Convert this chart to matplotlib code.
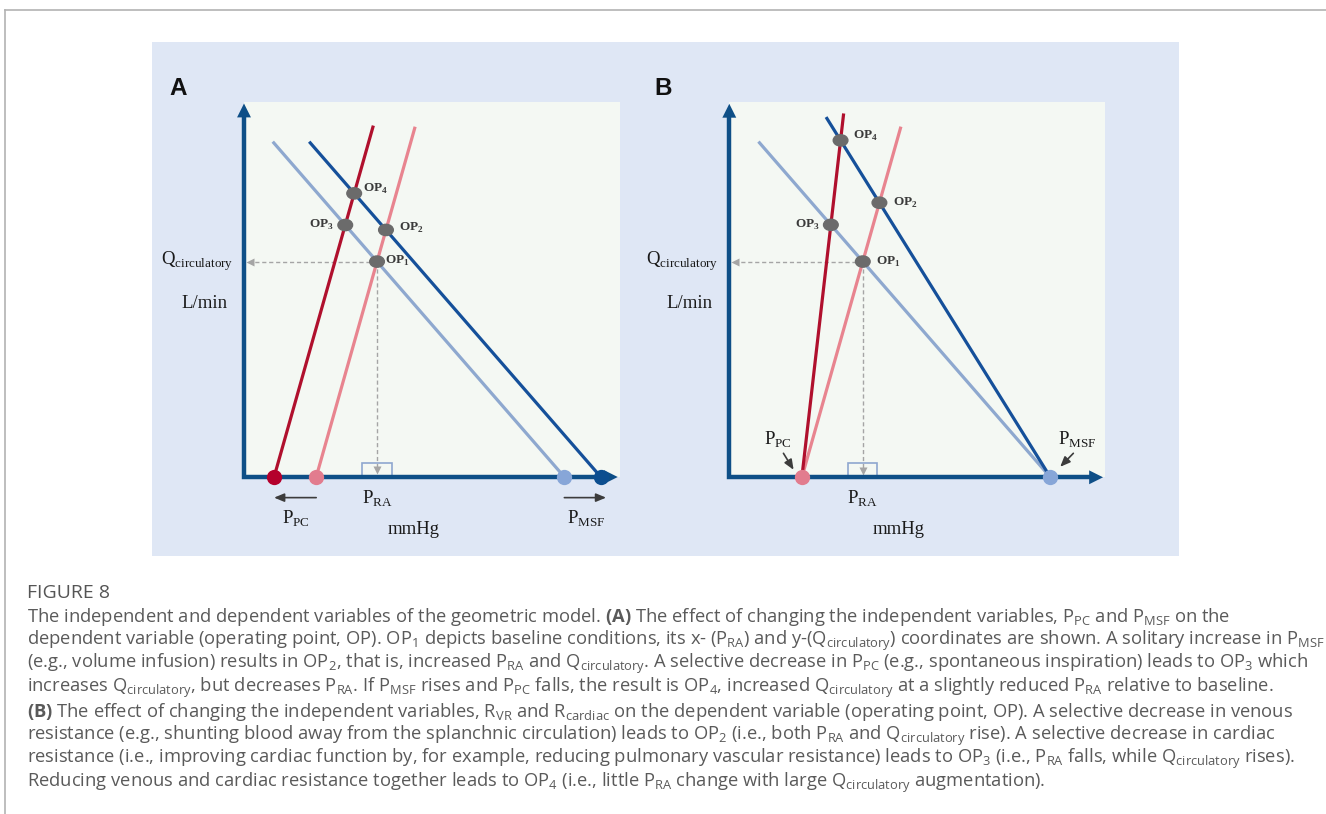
import matplotlib.pyplot as plt
from matplotlib.patches import Rectangle, Ellipse
from matplotlib.lines import Line2D

CAPFONT = 'Open Sans'
plt.rcParams['mathtext.fontset'] = 'custom'
plt.rcParams['mathtext.rm'] = CAPFONT
plt.rcParams['mathtext.bf'] = CAPFONT + ':bold'
plt.rcParams['mathtext.it'] = CAPFONT + ':italic'

W, H = 1326, 814

# ---- data (x = mmHg, y = L/min, arbitrary 0-100 units) ----
# cardiac lines: x-intercept P_PC, slope, upper end; [baseline, changed]
a_pc = [19.2, 8.0]
a_pc_slope = [3.55, 3.55]
a_pc_top = [93.0, 93.3]
# venous lines: x-intercept P_MSF, slope, upper end; [baseline, changed]
a_msf = [85.2, 94.9]
a_msf_slope = [-1.153, -1.153]
a_msf_top = [89.1, 89.1]

b_pc = [19.3, 19.3]
b_pc_slope = [3.55, 8.73]
b_pc_top = [93.1, 96.6]
b_msf = [85.4, 85.4]
b_msf_slope = [-1.153, -1.61]
b_msf_top = [89.2, 95.7]

op_names = ['OP$_\\mathregular{1}$', 'OP$_\\mathregular{2}$', 'OP$_\\mathregular{3}$', 'OP$_\\mathregular{4}$']
op_pairs = [(0, 0), (0, 1), (1, 0), (1, 1)]  # (cardiac idx, venous idx)

AXIS = '#0e4f87'
card_col = ['#e8848f', '#b0102d']
ven_col = ['#8ea8cf', '#15509a']
card_dot = ['#e27c8e', '#b4002c']
ven_dot = ['#87a6d8', '#0c4e8f']
SERIF = 'Liberation Serif'


def intersect(p1, s1, p2, s2):
    x = (s1 * p1 - s2 * p2) / (s1 - s2)
    return x, s1 * (x - p1)


def panel(rect, pc, pcs, pct, msf, msfs, msft, op_off, label, variant):
    ax = fig.add_axes(rect)
    ax.set_facecolor('#f4f8f3')
    for s in ax.spines.values():
        s.set_visible(False)
    ax.set_xticks([])
    ax.set_yticks([])
    ax.set_xlim(0, 100)
    ax.set_ylim(0, 100)

    # axes
    ax.plot([0, 0, 97], [97, 0, 0], color=AXIS, lw=3.2, solid_joinstyle='miter',
            solid_capstyle='projecting', clip_on=False, zorder=5)
    hs = '-|>,head_length=1.0,head_width=0.5'
    ax.annotate('', xy=(0, 99.6), xytext=(0, 95), annotation_clip=False,
                arrowprops=dict(arrowstyle=hs, color=AXIS, lw=0, shrinkA=0, shrinkB=0), zorder=5)
    ax.annotate('', xy=(99.4, 0), xytext=(95, 0), annotation_clip=False,
                arrowprops=dict(arrowstyle=hs, color=AXIS, lw=0, shrinkA=0, shrinkB=0), zorder=5)

    # venous return lines
    for i in range(2):
        x0 = msf[i] + msft[i] / msfs[i]
        ax.plot([x0, msf[i]], [msft[i], 0], color=ven_col[i], lw=2.3, zorder=3)
    # cardiac function lines
    for i in range(2):
        x1 = pc[i] + pct[i] / pcs[i]
        ax.plot([pc[i], x1], [0, pct[i]], color=card_col[i], lw=2.3, zorder=3)

    # intercept dots
    for i in range(2):
        if i == 0 or pc[i] != pc[0]:
            ax.plot(pc[i], 0, 'o', ms=11, color=card_dot[i], mec='none', clip_on=False, zorder=6)
        if i == 0 or msf[i] != msf[0]:
            ax.plot(msf[i], 0, 'o', ms=11, color=ven_dot[i], mec='none', clip_on=False, zorder=6)

    # operating points
    pts = [intersect(pc[c], pcs[c], msf[v], msfs[v]) for c, v in op_pairs]
    x1, y1 = pts[0]
    ax.plot([x1, 1.6], [y1, y1], color='#a5a5a5', lw=1, ls=(0, (3, 2)), zorder=2)
    ax.plot(1.6, y1, '<', ms=6, color='#a5a5a5', mec='none', zorder=2)
    ax.plot([x1, x1], [y1, 1.8], color='#a5a5a5', lw=1, ls=(0, (3, 2)), zorder=2)
    ax.plot(x1, 1.8, 'v', ms=6, color='#a5a5a5', mec='none', zorder=2)
    ax.add_patch(Rectangle((x1 - 3.9, 0), 7.8, 3.8, fill=False, ec='#8fa7cf', lw=1.2, zorder=2))
    for (x, y), name, (dx, dy) in zip(pts, op_names, op_off):
        ax.add_patch(Ellipse((x, y), 3.9, 3.0, color='#6b6b6b', zorder=7))
        ax.annotate(name, (x, y), xytext=(dx, dy), textcoords='offset pixels',
                    ha='left' if dx > 0 else 'right', va='center', fontsize=9.5,
                    fontweight='bold', family=SERIF, color='#3a3a3a')

    # axis labels
    ax.text(-12.4, y1, 'Q$_\\mathregular{circulatory}$', ha='center', va='center',
            fontsize=13.5, family=SERIF, color='#1a1a1a')
    ax.text(-10.5, 46.3, 'L/min', ha='center', va='center', fontsize=13.5, family=SERIF, color='#1a1a1a')
    ax.text(45, -13.9, 'mmHg', ha='center', va='center', fontsize=13.5, family=SERIF, color='#1a1a1a')
    ax.text(x1, -5.6, 'P$_\\mathregular{RA}$', ha='center', va='center', fontsize=13.5, family=SERIF, color='#1a1a1a')
    ax.text(-17.5, 103.6, label, ha='center', va='center', fontsize=17.5, fontweight='bold',
            family='Liberation Sans', color='#111111')

    small = dict(arrowstyle='-|>,head_length=0.6,head_width=0.25', color='#3c3c3c', lw=1.2,
                 shrinkA=0, shrinkB=0)
    if variant == 'A':
        ax.annotate('', xy=(pc[1], -5.5), xytext=(pc[0], -5.5), annotation_clip=False, arrowprops=small)
        ax.annotate('', xy=(msf[1] + 1.4, -5.5), xytext=(msf[0], -5.5), annotation_clip=False, arrowprops=small)
        ax.text(13.8, -10.8, 'P$_\\mathregular{PC}$', ha='center', va='center', fontsize=13.5, family=SERIF, color='#1a1a1a')
        ax.text(91.1, -10.8, 'P$_\\mathregular{MSF}$', ha='center', va='center', fontsize=13.5, family=SERIF, color='#1a1a1a')
    else:
        ax.annotate('', xy=(pc[0] - 2.2, 2.0), xytext=(pc[0] - 4.9, 6.4), annotation_clip=False, arrowprops=small)
        ax.annotate('', xy=(msf[0] + 2.6, 2.8), xytext=(msf[0] + 6.1, 6.4), annotation_clip=False, arrowprops=small)
        ax.text(13.0, 10.2, 'P$_\\mathregular{PC}$', ha='center', va='center', fontsize=13.5, family=SERIF, color='#1a1a1a')
        ax.text(92.4, 10.2, 'P$_\\mathregular{MSF}$', ha='center', va='center', fontsize=13.5, family=SERIF, color='#1a1a1a')
    return ax


fig = plt.figure(figsize=(W / 100, H / 100), dpi=100)
fig.patch.set_facecolor('white')

# frame lines and blue panel
fig.add_artist(Line2D([4.5 / W, 1], [1 - 9.5 / H] * 2, color='#b3b3b3', lw=1.2))
fig.add_artist(Line2D([4.5 / W] * 2, [0, 1 - 9.5 / H], color='#b3b3b3', lw=1.2))
fig.patches.append(Rectangle((152 / W, 1 - 556 / H), (1179 - 152) / W, (556 - 42) / H,
                             transform=fig.transFigure, fc='#dfe7f5', ec='none', zorder=-1))


def fig_rect(left, bottom, w=376, h=375):
    return [left / W, (H - bottom) / H, w / W, h / H]


off_a = [(8, 1), (13, 2), (-11, 0), (9, 4)]
off_b = [(13, 0), (14, 0), (-11, 0), (12, 4)]
panel(fig_rect(244, 477), a_pc, a_pc_slope, a_pc_top, a_msf, a_msf_slope, a_msf_top, off_a, 'A', 'A')
panel(fig_rect(729.3, 477.3), b_pc, b_pc_slope, b_pc_top, b_msf, b_msf_slope, b_msf_top, off_b, 'B', 'B')

# caption
cap = [
    r"The independent and dependent variables of the geometric model. $\mathbf{(A)}$ The effect of changing the independent variables, P$_\mathregular{PC}$ and P$_\mathregular{MSF}$ on the",
    r"dependent variable (operating point, OP). OP$_\mathregular{1}$ depicts baseline conditions, its x- (P$_\mathregular{RA}$) and y-(Q$_\mathregular{circulatory}$) coordinates are shown. A solitary increase in P$_\mathregular{MSF}$",
    r"(e.g., volume infusion) results in OP$_\mathregular{2}$, that is, increased P$_\mathregular{RA}$ and Q$_\mathregular{circulatory}$. A selective decrease in P$_\mathregular{PC}$ (e.g., spontaneous inspiration) leads to OP$_\mathregular{3}$ which",
    r"increases Q$_\mathregular{circulatory}$, but decreases P$_\mathregular{RA}$. If P$_\mathregular{MSF}$ rises and P$_\mathregular{PC}$ falls, the result is OP$_\mathregular{4}$, increased Q$_\mathregular{circulatory}$ at a slightly reduced P$_\mathregular{RA}$ relative to baseline.",
    r"$\mathbf{(B)}$ The effect of changing the independent variables, R$_\mathregular{VR}$ and R$_\mathregular{cardiac}$ on the dependent variable (operating point, OP). A selective decrease in venous",
    r"resistance (e.g., shunting blood away from the splanchnic circulation) leads to OP$_\mathregular{2}$ (i.e., both P$_\mathregular{RA}$ and Q$_\mathregular{circulatory}$ rise). A selective decrease in cardiac",
    r"resistance (i.e., improving cardiac function by, for example, reducing pulmonary vascular resistance) leads to OP$_\mathregular{3}$ (i.e., P$_\mathregular{RA}$ falls, while Q$_\mathregular{circulatory}$ rises).",
    r"Reducing venous and cardiac resistance together leads to OP$_\mathregular{4}$ (i.e., little P$_\mathregular{RA}$ change with large Q$_\mathregular{circulatory}$ augmentation).",
]
fig.text(27 / W, 1 - 593 / H, 'FIGURE 8', fontsize=14, family=CAPFONT, color='#555555', va='center')
for i, line in enumerate(cap):
    fig.text(27 / W, 1 - (617 + 23.7 * i) / H, line, fontsize=13.2, family=CAPFONT,
             color='#5a5a5a', va='center')

fig.savefig('out.png', dpi=100)
